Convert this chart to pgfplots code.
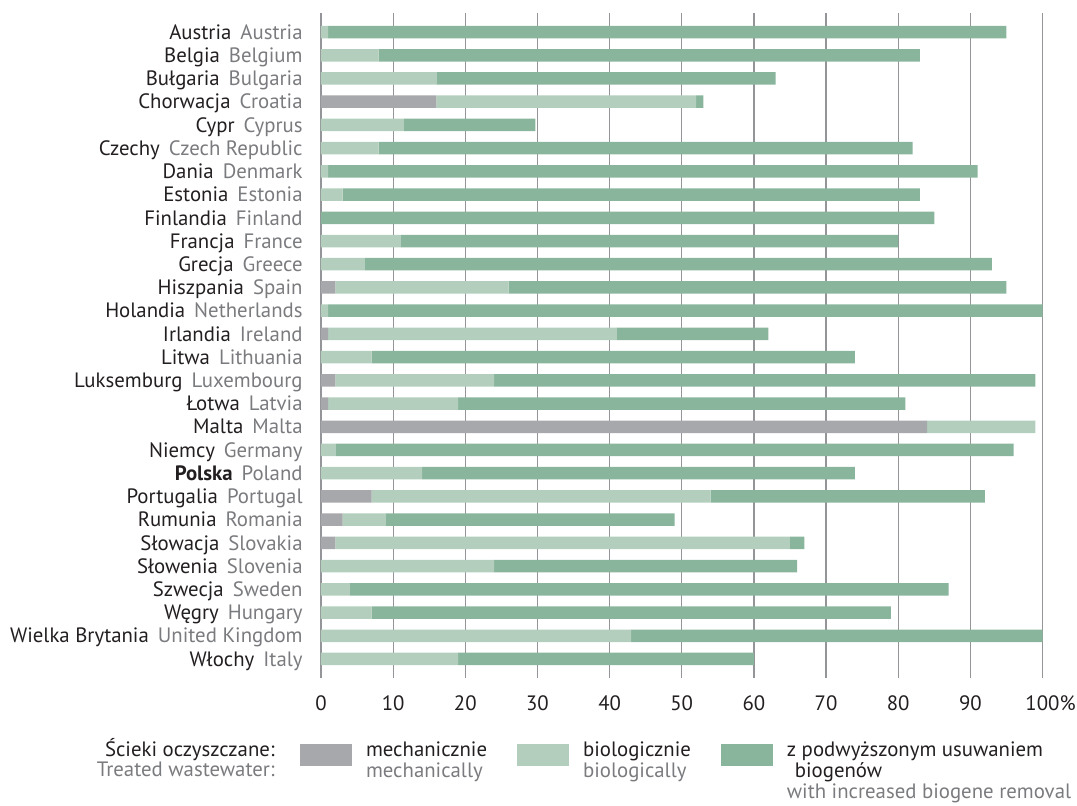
\documentclass[border=0pt]{standalone}
\usepackage{fontspec}
\setmainfont{PT Sans}
\usepackage{pgfplots}
\pgfplotsset{compat=1.18}
\usepackage{pgfplotstable}

\definecolor{cMech}{HTML}{A7A8AC}
\definecolor{cBio}{HTML}{B3CEBD}
\definecolor{cAdv}{HTML}{8AB59D}
\definecolor{lblack}{HTML}{231F20}
\definecolor{lgray}{HTML}{7A7B7E}
\definecolor{cGrid}{HTML}{939598}
\definecolor{cZero}{HTML}{6D6E71}
\renewcommand{\arraystretch}{0.8}

% share of treated wastewater, % (idx 0 = Austria ... 27 = Italy)
\pgfplotstableread{
idx mech bio adv
0  0  1    94
1  0  8    75
2  0  16   47
3  16 36   1
4  0  11.5 18.2
5  0  8    74
6  0  1    90
7  0  3    80
8  0  0    85
9  0  11   69
10 0  6    87
11 2  24   69
12 0  1    99
13 1  40   21
14 0  7    67
15 2  22   75
16 1  18   62
17 84 15   0
18 0  2    94
19 0  14   60
20 7  47   38
21 3  6    40
22 2  63   2
23 0  24   42
24 0  4    83
25 0  7    72
26 0  43   57
27 0  19   41
}\datatable

\newcommand{\lbl}[2]{\textcolor{lblack}{#1}\hspace{4.5pt}\textcolor{lgray}{#2}}

\begin{document}
\fontsize{10.4pt}{12.4pt}\selectfont
\begin{tikzpicture}
\path[use as bounding box] (-160.5pt,-63.5pt) rectangle (378pt,339pt);
\begin{axis}[
    scale only axis,
    width=360.75pt, height=332.5pt,
    clip=false,
    xbar stacked,
    bar width=6.25pt,
    xmin=0, xmax=100,
    ymin=-0.82, ymax=27.82,
    y dir=reverse,
    axis line style={draw=none},
    major tick length=0pt,
    xtick={10,20,...,100},
    xticklabels={10,20,30,40,50,60,70,80,90,100\rlap{\%}},
    extra x ticks={0},
    extra x tick labels={0},
    extra x tick style={grid style={color=cZero, line width=0.7pt}},
    xmajorgrids,
    major grid style={color=cGrid, line width=0.6pt},
    xticklabel style={anchor=base, yshift=-16pt, text=lblack, inner sep=0pt},
    ytick={0,...,27},
    yticklabels={
      {\lbl{Austria}{Austria}},
      {\lbl{Belgia}{Belgium}},
      {\lbl{Bułgaria}{Bulgaria}},
      {\lbl{Chorwacja}{Croatia}},
      {\lbl{Cypr}{Cyprus}},
      {\lbl{Czechy}{Czech Republic}},
      {\lbl{Dania}{Denmark}},
      {\lbl{Estonia}{Estonia}},
      {\lbl{Finlandia}{Finland}},
      {\lbl{Francja}{France}},
      {\lbl{Grecja}{Greece}},
      {\lbl{Hiszpania}{Spain}},
      {\lbl{Holandia}{Netherlands}},
      {\lbl{Irlandia}{Ireland}},
      {\lbl{Litwa}{Lithuania}},
      {\lbl{Luksemburg}{Luxembourg}},
      {\lbl{Łotwa}{Latvia}},
      {\lbl{Malta}{Malta}},
      {\lbl{Niemcy}{Germany}},
      {\lbl{\textbf{Polska}}{Poland}},
      {\lbl{Portugalia}{Portugal}},
      {\lbl{Rumunia}{Romania}},
      {\lbl{Słowacja}{Slovakia}},
      {\lbl{Słowenia}{Slovenia}},
      {\lbl{Szwecja}{Sweden}},
      {\lbl{Węgry}{Hungary}},
      {\lbl{Wielka Brytania}{United Kingdom}},
      {\lbl{Włochy}{Italy}}},
    yticklabel style={anchor=base east, inner sep=0pt, xshift=-9pt, yshift=-3.6pt},
    legend columns=3,
    legend cell align=left,
    legend style={at={(axis description cs:-0.0291,-0.0958)}, anchor=north west,
      draw=none, fill=none, inner sep=0pt, outer sep=0pt,
      nodes={inner sep=0pt, text=lblack},
      /tikz/every odd column/.append style={column sep=7pt},
      /tikz/every even column/.append style={column sep=15pt}},
]
\addplot[fill=cMech, draw=none,
  legend image code/.code={\fill[cMech] (0pt,-7.5pt) rectangle (26pt,3.5pt);}]
  table[x=mech, y=idx] {\datatable};
\addplot[fill=cBio, draw=none,
  legend image code/.code={\fill[cBio] (0pt,-7.5pt) rectangle (26pt,3.5pt);}]
  table[x=bio, y=idx] {\datatable};
\addplot[fill=cAdv, draw=none,
  legend image code/.code={\fill[cAdv] (0pt,-7.5pt) rectangle (26pt,3.5pt);}]
  table[x=adv, y=idx] {\datatable};
\addlegendentry{\begin{tabular}[t]{@{}l@{}}mechanicznie\\\textcolor{lgray}{mechanically}\end{tabular}}
\addlegendentry{\begin{tabular}[t]{@{}l@{}}biologicznie\\\textcolor{lgray}{biologically}\end{tabular}}
\addlegendentry{\begin{tabular}[t]{@{}l@{}}z podwyższonym usuwaniem\\\hspace{4pt}biogenów\\\textcolor{lgray}{with increased biogene removal}\end{tabular}}
\node[anchor=base east, inner sep=0pt, text=lblack] at (axis description cs:-0.0638,-0.1173)
  {\begin{tabular}[t]{@{}r@{}}Ścieki oczyszczane:\\\textcolor{lgray}{Treated wastewater:}\end{tabular}};
\end{axis}
\end{tikzpicture}
\end{document}
